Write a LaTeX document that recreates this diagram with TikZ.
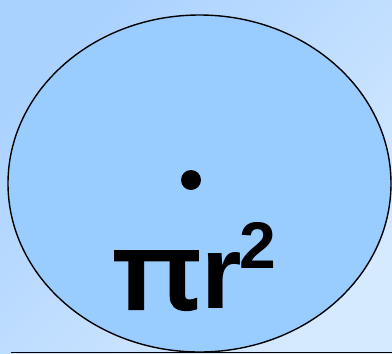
\documentclass[tikz,border=0pt]{standalone}
\usepackage{fontspec}
\setmainfont{Liberation Sans}
\newfontfamily\pifont[FakeBold=4,FakeStretch=1.26]{Noto Sans}
\definecolor{bgA}{HTML}{AAD2FF}
\definecolor{bgB}{HTML}{D5E9FF}
\definecolor{disc}{HTML}{99CCFF}
\begin{document}
\begin{tikzpicture}[x=1pt,y=-1pt]
\useasboundingbox (0,0) rectangle (392,354);
\shade[top color=bgA, bottom color=bgB, shading angle=45] (0,0) rectangle (392,354);
\draw[fill=disc, line width=1.4pt] (199.5,183.5) ellipse [x radius=191.5, y radius=168.5];
\fill (191,180) circle [radius=10];
\draw[line width=1.2pt] (11,352.6) -- (392,352.6);
\node[anchor=base west, inner sep=0pt] (area) at (114,308)
  {{\pifont\fontsize{104}{104}\selectfont π}\kern2pt\bfseries\fontsize{104}{104}\selectfont r\kern-3pt\raisebox{40pt}{\fontsize{66}{66}\selectfont 2}};
\end{tikzpicture}
\end{document}
